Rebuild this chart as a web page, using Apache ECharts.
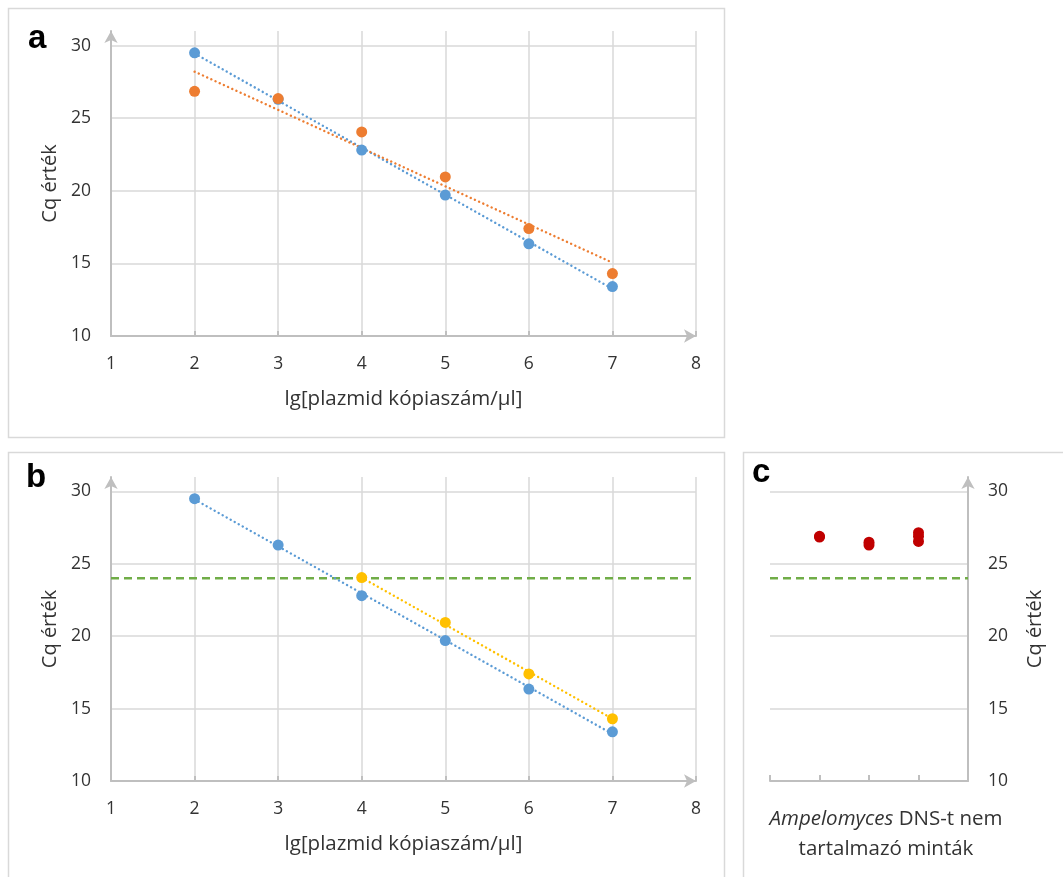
<!DOCTYPE html>
<html>
<head>
<meta charset="utf-8">
<script src="https://cdn.jsdelivr.net/npm/echarts@6/dist/echarts.min.js"></script>
<style>
  html, body { margin: 0; padding: 0; background: #fff; }
  #chart { width: 1063px; height: 877px; }
</style>
</head>
<body>
<div id="chart"></div>
<script>
// --- data ---
var lgCopies = [2, 3, 4, 5, 6, 7];
var cqBlue = [29.5, 26.3, 22.8, 19.7, 16.35, 13.4];
var cqOrange = [26.85, 26.35, 24.05, 20.95, 17.4, 14.3];
var lgYellow = [4, 5, 6, 7];
var cqYellow = [24.05, 20.95, 17.4, 14.3];
// trend line ends (x = 2 and 7, or 4 and 7 for yellow)
var trendX = [2, 7];
var trendBlue = [29.45, 13.25];
var trendOrange = [28.2, 15.05];
var trendYellowX = [4, 7];
var trendYellow = [24.05, 14.3];
var cutoff = 24;
// panel c: negative samples (sample index, Cq)
var sampleIdx = [1, 1, 2, 2, 3, 3, 3];
var sampleCq = [26.9, 26.85, 26.5, 26.3, 27.15, 26.9, 26.55];

var axisGrey = '#bfbfbf';
var gridGrey = '#d9d9d9';
var txt = '#333333';
var font = 'Open Sans';

function pairs(xs, ys) {
  var out = [];
  for (var i = 0; i < xs.length; i++) out.push([xs[i], ys[i]]);
  return out;
}

function xAxisLg(gridIndex) {
  return {
    type: 'value', gridIndex: gridIndex, min: 1, max: 8, interval: 1,
    name: 'lg[plazmid kópiaszám/µl]', nameLocation: 'middle', nameGap: 53,
    nameTextStyle: { color: txt, fontSize: 20.5, fontFamily: font },
    axisLine: { lineStyle: { color: axisGrey, width: 2 }, symbol: ['none', 'arrow'], symbolSize: [10, 12] },
    axisTick: { show: true, inside: true, length: 5, lineStyle: { color: axisGrey, width: 2 } },
    axisLabel: { color: txt, fontSize: 17.5, fontFamily: font, margin: 19 },
    splitLine: { show: true, lineStyle: { color: gridGrey, width: 1.5 } }
  };
}

function yAxisCq(gridIndex, pos) {
  return {
    type: 'value', gridIndex: gridIndex, position: pos, min: 10, max: 31, interval: 5,
    name: 'Cq érték', nameLocation: 'middle', nameRotate: 90, nameGap: pos === 'right' ? 57 : 48,
    nameTextStyle: { color: txt, fontSize: 20, fontFamily: font },
    axisLine: { onZero: false, lineStyle: { color: axisGrey, width: 2 }, symbol: ['none', 'arrow'], symbolSize: [10, 12] },
    axisTick: { show: false },
    axisLabel: { color: txt, fontSize: 17.5, fontFamily: font, margin: 20, showMaxLabel: false },
    splitLine: { show: true, showMaxLine: false, lineStyle: { color: gridGrey, width: 1.5 } }
  };
}

function dots(name, xi, yi, data, color) {
  return {
    name: name, type: 'scatter', xAxisIndex: xi, yAxisIndex: yi, data: data,
    symbolSize: 11, itemStyle: { color: color, opacity: 1 }, z: 5
  };
}

function trend(name, xi, yi, data, color) {
  return {
    name: name, type: 'line', xAxisIndex: xi, yAxisIndex: yi, data: data,
    showSymbol: false, symbol: 'none', silent: true,
    lineStyle: { color: color, width: 2.4, type: [0.1, 4.5], cap: 'round' }, z: 3
  };
}

function dashed(name, xi, yi, data) {
  return {
    name: name, type: 'line', xAxisIndex: xi, yAxisIndex: yi, data: data,
    symbol: 'none', silent: true,
    lineStyle: { color: '#70ad47', width: 2.5, type: [8, 5] }, z: 2
  };
}

var chart = echarts.init(document.getElementById('chart'));
var option = {
  backgroundColor: '#ffffff',
  animation: false,
  graphic: [
    { type: 'rect', shape: { x: 8.5, y: 8.5, width: 716, height: 429 }, style: { fill: 'none', stroke: '#d9d9d9', lineWidth: 1.5 } },
    { type: 'rect', shape: { x: 8.5, y: 452.5, width: 716, height: 440 }, style: { fill: 'none', stroke: '#d9d9d9', lineWidth: 1.5 } },
    { type: 'rect', shape: { x: 743.5, y: 452.5, width: 340, height: 440 }, style: { fill: 'none', stroke: '#d9d9d9', lineWidth: 1.5 } },
    { type: 'text', left: 28, top: 22, style: { text: 'a', font: 'bold 33px "Liberation Sans"', fill: '#000' } },
    { type: 'text', left: 26, top: 461, style: { text: 'b', font: 'bold 33px "Liberation Sans"', fill: '#000' } },
    { type: 'text', left: 752, top: 456, style: { text: 'c', font: 'bold 33px "Liberation Sans"', fill: '#000' } }
  ],
  grid: [
    { left: 111, top: 31, width: 585, height: 305 },
    { left: 111, top: 477, width: 585, height: 304 },
    { left: 770, top: 477, width: 198, height: 304 }
  ],
  xAxis: [
    xAxisLg(0),
    xAxisLg(1),
    {
      type: 'value', gridIndex: 2, min: 0, max: 4, interval: 1,
      name: '{i|Ampelomyces} DNS-t nem\ntartalmazó minták', nameLocation: 'middle', nameGap: 23,
      nameTextStyle: {
        color: txt, fontSize: 20.5, fontFamily: font, lineHeight: 30, padding: [0, 0, 0, 34],
        rich: { i: { fontStyle: 'italic', color: txt, fontSize: 20.5, fontFamily: font, lineHeight: 30 } }
      },
      axisLine: { lineStyle: { color: axisGrey, width: 2 } },
      axisTick: { show: true, inside: true, length: 6, lineStyle: { color: axisGrey, width: 2 } },
      axisLabel: { show: false },
      splitLine: { show: false }
    }
  ],
  yAxis: [
    yAxisCq(0, 'left'),
    yAxisCq(1, 'left'),
    yAxisCq(2, 'right')
  ],
  series: [
    trend('Trend kék a', 0, 0, pairs(trendX, trendBlue), '#5b9bd5'),
    trend('Trend narancs a', 0, 0, pairs(trendX, trendOrange), '#ed7d31'),
    dots('Kék a', 0, 0, pairs(lgCopies, cqBlue), '#5b9bd5'),
    dots('Narancs a', 0, 0, pairs(lgCopies, cqOrange), '#ed7d31'),

    dashed('Küszöb b', 1, 1, [[1, cutoff], [8, cutoff]]),
    trend('Trend kék b', 1, 1, pairs(trendX, trendBlue), '#5b9bd5'),
    trend('Trend sárga b', 1, 1, pairs(trendYellowX, trendYellow), '#ffc000'),
    dots('Kék b', 1, 1, pairs(lgCopies, cqBlue), '#5b9bd5'),
    dots('Sárga b', 1, 1, pairs(lgYellow, cqYellow), '#ffc000'),

    dashed('Küszöb c', 2, 2, [[0, cutoff], [4, cutoff]]),
    dots('Minták c', 2, 2, pairs(sampleIdx, sampleCq), '#c00000')
  ]
};
chart.setOption(option);
</script>
</body>
</html>
